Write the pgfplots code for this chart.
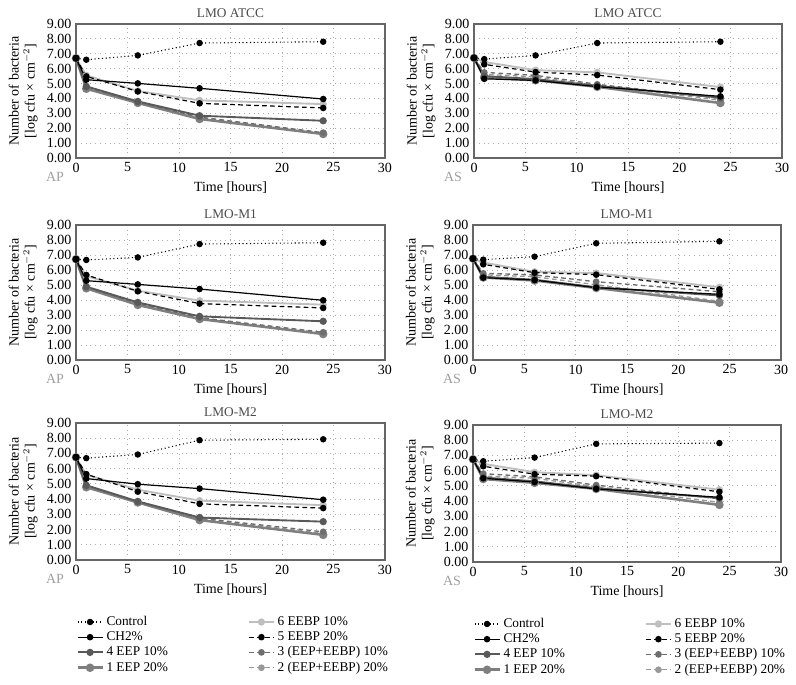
\documentclass[border=0pt]{standalone}
\usepackage{pgfplots}
\pgfplotsset{compat=1.18}
\usepackage{pgfplotstable}
\usepackage{fontspec}
\setmainfont{Liberation Serif}

\definecolor{cE4}{HTML}{595959}
\definecolor{cE1}{HTML}{7F7F7F}
\definecolor{cB6}{HTML}{BFBFBF}
\definecolor{cM3}{HTML}{6E6E6E}
\definecolor{cM2}{HTML}{999999}

% t ctrl ch e4 e1 b6 b5 m3 m2
\pgfplotstableread{
t ctrl ch e4 e1 b6 b5 m3 m2
0 6.70 6.70 6.70 6.70 6.70 6.70 6.70 6.70
1 6.60 5.26 4.81 4.65 5.55 5.48 4.75 4.70
6 6.89 5.01 3.80 3.70 4.50 4.47 3.75 3.72
12 7.72 4.68 2.84 2.62 3.87 3.67 2.75 2.70
24 7.81 3.96 2.50 1.61 3.62 3.36 1.70 1.65
}\dTL
\pgfplotstableread{
t ctrl ch e4 e1 b6 b5 m3 m2
0 6.72 6.72 6.72 6.72 6.72 6.72 6.72 6.72
1 6.64 5.32 5.50 5.40 6.45 6.29 5.75 5.62
6 6.89 5.21 5.30 5.22 5.90 5.77 5.55 5.45
12 7.72 4.79 4.85 4.78 5.75 5.57 4.95 4.88
24 7.81 4.14 4.05 3.69 4.76 4.59 4.00 3.88
}\dTR
\pgfplotstableread{
t ctrl ch e4 e1 b6 b5 m3 m2
0 6.72 6.72 6.72 6.72 6.72 6.72 6.72 6.72
1 6.67 5.29 4.89 4.78 5.60 5.67 4.85 4.80
6 6.84 5.04 3.84 3.67 4.62 4.58 3.78 3.72
12 7.73 4.73 2.91 2.73 3.96 3.76 2.82 2.78
24 7.82 3.98 2.58 1.73 3.69 3.47 1.85 1.78
}\dML
\pgfplotstableread{
t ctrl ch e4 e1 b6 b5 m3 m2
0 6.76 6.76 6.76 6.76 6.76 6.76 6.76 6.76
1 6.69 5.49 5.55 5.50 6.50 6.38 5.78 5.68
6 6.89 5.33 5.35 5.30 5.88 5.82 5.67 5.55
12 7.78 4.82 4.85 4.80 5.80 5.69 5.22 5.02
24 7.91 4.38 4.30 3.82 4.85 4.71 4.55 3.92
}\dMR
\pgfplotstableread{
t ctrl ch e4 e1 b6 b5 m3 m2
0 6.75 6.75 6.75 6.75 6.75 6.75 6.75 6.75
1 6.69 5.35 4.91 4.78 5.60 5.64 4.85 4.80
6 6.93 4.98 3.85 3.78 4.62 4.49 3.82 3.80
12 7.87 4.69 2.79 2.62 3.90 3.69 2.75 2.70
24 7.93 3.96 2.52 1.65 3.60 3.41 1.85 1.75
}\dBL
\pgfplotstableread{
t ctrl ch e4 e1 b6 b5 m3 m2
0 6.75 6.75 6.75 6.75 6.75 6.75 6.75 6.75
1 6.62 5.50 5.55 5.45 6.45 6.29 5.80 5.65
6 6.86 5.25 5.30 5.20 5.90 5.77 5.60 5.50
12 7.76 4.80 4.85 4.80 5.70 5.64 5.05 4.95
24 7.81 4.25 4.20 3.75 4.75 4.61 4.15 3.92
}\dBR

\pgfplotsset{
  sCtrl/.style={black, line width=0.8pt, dash pattern=on 0.8pt off 2pt, mark=*, mark size=2pt, mark options={solid, fill=black}},
  sCH/.style={black, solid, line width=0.9pt, mark=*, mark size=2pt, mark options={fill=black}},
  sE4/.style={cE4, solid, line width=1.4pt, mark=*, mark size=2pt, mark options={fill=cE4}},
  sE1/.style={cE1, solid, line width=1.9pt, mark=*, mark size=2.2pt, mark options={fill=cE1}},
  sB6/.style={cB6, solid, line width=1.4pt, mark=*, mark size=2pt, mark options={fill=cB6}},
  sB5/.style={black, line width=0.9pt, dash pattern=on 3.5pt off 2.5pt, mark=*, mark size=2pt, mark options={solid, fill=black}},
  sM3/.style={cM3, line width=1.0pt, dash pattern=on 3.5pt off 2.5pt, mark=*, mark size=2pt, mark options={solid, fill=cM3}},
  sM2/.style={cM2, line width=1.0pt, dash pattern=on 3.5pt off 2.5pt, mark=*, mark size=2pt, mark options={solid, fill=cM2}},
  panel/.style={
    scale only axis, anchor=south west, clip=false,
    xmin=0, xmax=30, ymin=0, ymax=9,
    xtick={0,5,...,30}, ytick={0,1,...,9},
    /pgf/number format/assume math mode=true,
    xticklabel={\pgfmathprintnumber{\tick}},
    yticklabel={\pgfmathprintnumber[fixed,fixed zerofill,precision=2]{\tick}},
    grid=major, grid style={gray!65, line width=0.6pt, dash pattern=on 0.6pt off 3pt},
    axis line style={gray!80!black, line width=0.8pt},
    major tick length=0pt,
    tick label style={font=\fontsize{10.5}{12}\selectfont},
    label style={font=\fontsize{10.5}{12}\selectfont},
    xlabel={Time [hours]},
    ylabel={Number of bacteria\\{[}log cfu × cm${}^{-2}${]}},
    ylabel style={align=center},
    title style={font=\fontsize{10}{12}\selectfont, text=black!70, yshift=-4.5pt},
    legend image code/.code={\draw[mark repeat=2,mark phase=2,##1] plot coordinates {(0cm,0cm) (0.33cm,0cm) (0.66cm,0cm)};},
  },
  withlegend/.style={
    legend columns=2, legend cell align=left,
    legend style={at={(0,-0.39)}, anchor=north west, draw=none, fill=none,
      font=\fontsize{10}{11}\selectfont, inner sep=0pt, row sep=-0.9pt,
      /tikz/every even column/.append style={column sep=58pt}},
  },
}

\newcommand{\panelplots}[1]{%
  \addplot[sB6, forget plot] table[x=t,y=b6]{#1};
  \addplot[sM2, forget plot] table[x=t,y=m2]{#1};
  \addplot[sE1, forget plot] table[x=t,y=e1]{#1};
  \addplot[sM3, forget plot] table[x=t,y=m3]{#1};
  \addplot[sE4, forget plot] table[x=t,y=e4]{#1};
  \addplot[sB5, forget plot] table[x=t,y=b5]{#1};
  \addplot[sCH, forget plot] table[x=t,y=ch]{#1};
  \addplot[sCtrl, forget plot] table[x=t,y=ctrl]{#1};
}
\newcommand{\legendentries}{%
  \addlegendimage{sCtrl}\addlegendentry{Control}
  \addlegendimage{sB6}\addlegendentry{6 EEBP 10\%}
  \addlegendimage{sCH}\addlegendentry{CH2\%}
  \addlegendimage{sB5}\addlegendentry{5 EEBP 20\%}
  \addlegendimage{sE4}\addlegendentry{4 EEP 10\%}
  \addlegendimage{sM3}\addlegendentry{3 (EEP+EEBP) 10\%}
  \addlegendimage{sE1}\addlegendentry{1 EEP 20\%}
  \addlegendimage{sM2}\addlegendentry{2 (EEP+EEBP) 20\%}
}
\newcommand{\tag}[1]{\node[text=gray!75, font=\fontsize{10.5}{12}\selectfont] at (rel axis cs:-0.068,-0.14) {#1};}

\begin{document}
\begin{tikzpicture}
\path[use as bounding box] (0,0) rectangle (597pt,513.75pt);

\begin{axis}[panel, at={(57pt,395.25pt)}, width=231.75pt, height=100.5pt, title={LMO ATCC}]
\panelplots{\dTL}
\tag{AP}
\end{axis}

\begin{axis}[panel, at={(355.5pt,395.25pt)}, width=231pt, height=100.5pt, title={LMO ATCC}]
\panelplots{\dTR}
\tag{AS}
\end{axis}

\begin{axis}[panel, at={(57pt,243.75pt)}, width=231.75pt, height=101.25pt, title={LMO-M1}]
\panelplots{\dML}
\tag{AP}
\end{axis}

\begin{axis}[panel, at={(354.75pt,243.75pt)}, width=231pt, height=101.25pt, title={LMO-M1}]
\panelplots{\dMR}
\tag{AS}
\end{axis}

\begin{axis}[panel, withlegend, at={(57pt,93.75pt)}, width=231.75pt, height=102.75pt, title={LMO-M2}]
\panelplots{\dBL}
\legendentries
\tag{AP}
\end{axis}

\begin{axis}[panel, withlegend, at={(354.75pt,92.25pt)}, width=231pt, height=102.75pt, title={LMO-M2}]
\panelplots{\dBR}
\legendentries
\tag{AS}
\end{axis}
\end{tikzpicture}
\end{document}
